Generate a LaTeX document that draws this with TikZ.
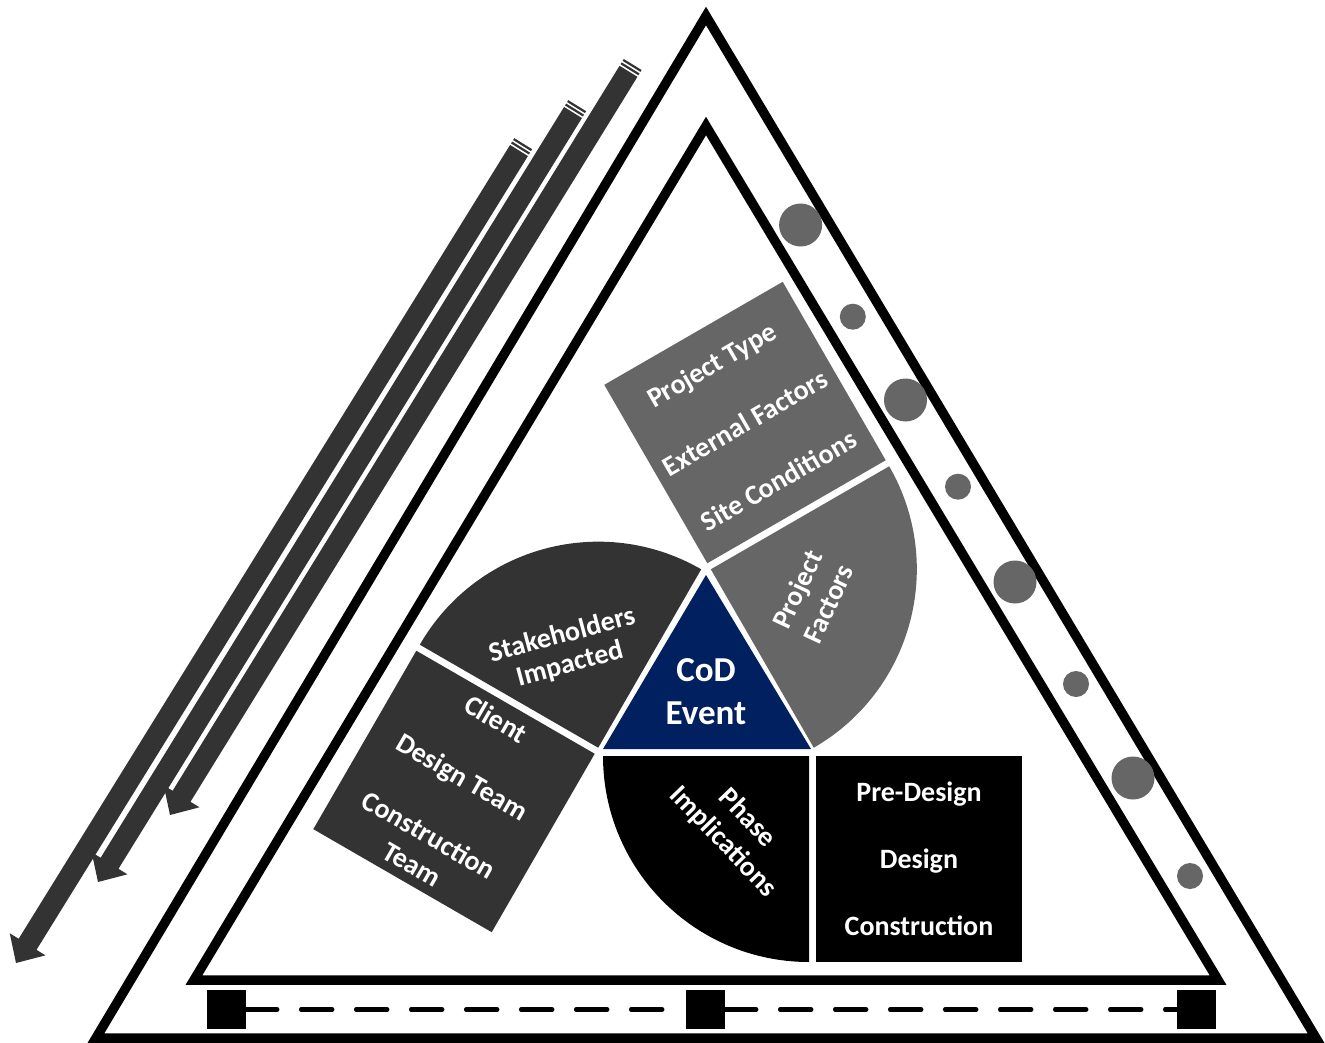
\documentclass[tikz,border=0pt]{standalone}
\usepackage{fontspec}
\setmainfont{Carlito}
\usetikzlibrary{calc}
\definecolor{navy}{HTML}{002060}
\definecolor{gA}{HTML}{666666}
\definecolor{gB}{HTML}{333333}
% striped block arrow: #1 = start (tail) coordinate, #2 = tip coordinate
\newcommand{\stripedarrow}[2]{%
  \coordinate (hb) at ($(#2)!22pt!(#1)$);
  \fill[gB] ($(#1)!10.5pt!90:(#2)$) -- ($(hb)!10.5pt!90:(#2)$) -- ($(hb)!21pt!90:(#2)$) -- (#2)
     -- ($(hb)!21pt!-90:(#2)$) -- ($(hb)!10.5pt!-90:(#2)$) -- ($(#1)!10.5pt!-90:(#2)$) -- cycle;
  \coordinate (st1) at ($(#1)!2.9pt!180:(#2)$);
  \coordinate (st2) at ($(#1)!6.9pt!180:(#2)$);
  \draw[gB, line width=2.2pt] ($(st1)!10.5pt!90:(#2)$) -- ($(st1)!10.5pt!-90:(#2)$);
  \draw[gB, line width=2.2pt] ($(st2)!10.5pt!90:(#2)$) -- ($(st2)!10.5pt!-90:(#2)$);
}
\begin{document}
\begin{tikzpicture}[x=1pt,y=1pt,
  tri/.style={draw=black, line width=9.5pt, line join=miter},
  lbl/.style={text=white, font=\bfseries\fontsize{28}{34}\selectfont, align=center, inner sep=0pt},
  sqbox/.style={minimum size=206pt, inner sep=0pt, text=white,
                font=\bfseries\fontsize{28}{34}\selectfont, align=center},
  dotbig/.style={circle, fill=gA, inner sep=0pt, minimum size=43pt},
  dotsmall/.style={circle, fill=gA, inner sep=0pt, minimum size=26pt},
  blk/.style={fill=black, minimum size=39pt, inner sep=0pt},
  dashline/.style={line width=4.5pt, line cap=round, dash pattern=on 31pt off 24pt}
]
\useasboundingbox (0,0) rectangle (1325,-1043);
\fill[white] (0,0) rectangle (1325,-1043);

% triangles
\coordinate (oA) at (706,-16);  \coordinate (oL) at (96,-1038);  \coordinate (oR) at (1316,-1038);
\coordinate (iA) at (706,-126); \coordinate (iL) at (194,-980);  \coordinate (iR) at (1218,-980);
\draw[tri] (oA) -- (oL) -- (oR) -- cycle;
\draw[tri] (iA) -- (iL) -- (iR) -- cycle;

% arrows on the left (parallel, staggered)
\coordinate (a1s) at (628.5,-71.3); \coordinate (a1e) at (170,-815);
\coordinate (a2s) at (573,-112.5);  \coordinate (a2e) at (98,-882);
\coordinate (a3s) at (519,-150.5);  \coordinate (a3e) at (16,-963);
\stripedarrow{a1s}{a1e}
\stripedarrow{a2s}{a2e}
\stripedarrow{a3s}{a3e}

% circles along right side
\node[dotbig]   (c1) at (800.6,-225) {};
\node[dotsmall] (c2) at (852.8,-316.7) {};
\node[dotbig]   (c3) at (905.5,-400) {};
\node[dotsmall] (c4) at (958,-486.7) {};
\node[dotbig]   (c5) at (1015,-582) {};
\node[dotsmall] (c6) at (1076,-684) {};
\node[dotbig]   (c7) at (1133,-778) {};
\node[dotsmall] (c8) at (1190,-876) {};

% squares and dashed line along bottom
\node[blk] (b1) at (226.5,-1009.5) {};
\node[blk] (b2) at (705.5,-1009.5) {};
\node[blk] (b3) at (1196.5,-1009.5) {};
\draw[dashline] (b1.east) -- (b2.west);
\draw[dashline] (b2.east) -- (b3.west);

% central CoD triangle
\coordinate (P) at (706,-691);
\fill[navy] (706,-575) -- (603,-749) -- (811,-749) -- cycle;
\node[text=white, font=\bfseries\fontsize{35}{43}\selectfont, align=center, inner sep=0pt] (cod) at (706,-691.5) {CoD\\Event};

% sectors
\fill[black] (809,-756) -- (603,-756) arc[start angle=180, end angle=270, radius=206] -- cycle;
\begin{scope}[rotate around={120:(P)}]
\fill[gA] (809,-756) -- (603,-756) arc[start angle=180, end angle=270, radius=206] -- cycle;
\end{scope}
\begin{scope}[rotate around={-120:(P)}]
\fill[gB] (809,-756) -- (603,-756) arc[start angle=180, end angle=270, radius=206] -- cycle;
\end{scope}

% squares with lists
\coordinate (bsq) at (919,-859);
\node[sqbox, fill=black] (phaselist) at (bsq) {Pre-Design\\[33pt]Design\\[33pt]Construction};
\node[sqbox, fill=gA, rotate=30] (factlist) at ($(P)!1!120:(bsq)$) {Project Type\\[33pt]External Factors\\[33pt]Site Conditions};
\node[sqbox, fill=gB, rotate=-30] (stakelist) at ($(P)!1!-120:(bsq)$) {Client\\[33pt]Design Team\\[33pt]Construction\\Team};

% sector labels
\node[lbl, rotate=-46] (phasetxt) at (735,-830) {Phase\\Implications};
\node[lbl, rotate=65] (facttxt) at (812.5,-596.5) {Project\\Factors};
\node[lbl, rotate=15, font=\bfseries\fontsize{28}{30}\selectfont] (staketxt) at (566,-650) {Stakeholders\\Impacted};
\end{tikzpicture}
\end{document}
